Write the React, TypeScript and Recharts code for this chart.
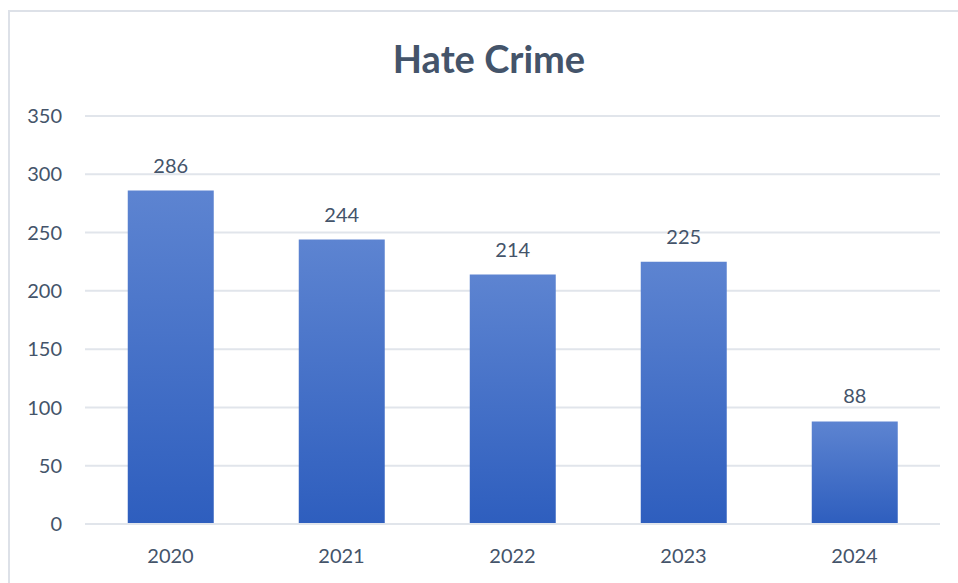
import React from "react";
import { BarChart, Bar, XAxis, YAxis, CartesianGrid, LabelList } from "recharts";

const years = ["2020", "2021", "2022", "2023", "2024"];
const counts = [286, 244, 214, 225, 88];
const yTicks = [0, 50, 100, 150, 200, 250, 300, 350];

const data = years.map((year, i) => ({ year, count: counts[i] }));

const FONT = "Lato, 'Open Sans', sans-serif";
const TEXT = "#44546A";

export default function App() {
  return (
    <div
      style={{
        position: "fixed",
        left: 0,
        top: 0,
        width: 958,
        height: 583,
        overflow: "hidden",
        background: "#ffffff",
        fontFamily: FONT,
      }}
    >
      <div
        style={{
          position: "absolute",
          left: 8,
          top: 10,
          width: 980,
          height: 600,
          borderLeft: "2px solid #dde1e8",
          borderTop: "2px solid #dde1e8",
          boxSizing: "border-box",
        }}
      />
      <div
        style={{
          position: "absolute",
          left: 8,
          width: 962,
          top: 35,
          textAlign: "center",
          fontSize: 38,
          fontWeight: 700,
          color: TEXT,
          lineHeight: "46px",
        }}
      >
        Hate Crime
      </div>
      <div style={{ position: "absolute", left: 8, top: 8 }}>
        <BarChart
          width={950}
          height={575}
          data={data}
          margin={{ top: 108, right: 18, bottom: 29, left: 0 }}
          barCategoryGap="25%"
        >
          <defs>
            <linearGradient id="barGrad" x1="0" y1="0" x2="0" y2="1">
              <stop offset="0%" stopColor="#5d84d1" />
              <stop offset="100%" stopColor="#2e5ebe" />
            </linearGradient>
          </defs>
          <CartesianGrid vertical={false} stroke="#e1e5eb" strokeWidth={2} />
          <XAxis
            dataKey="year"
            height={30}
            tickLine={false}
            axisLine={{ stroke: "#e1e5eb", strokeWidth: 2 }}
            tickSize={0}
            tickMargin={25}
            tick={{ fill: TEXT, fontSize: 20, fontFamily: FONT }}
          />
          <YAxis
            width={77}
            domain={[0, 350]}
            ticks={yTicks}
            interval={0}
            tickLine={false}
            axisLine={false}
            tickSize={0}
            tickMargin={23}
            tick={{ fill: TEXT, fontSize: 20, fontFamily: FONT }}
          />
          <Bar dataKey="count" fill="url(#barGrad)" isAnimationActive={false}>
            <LabelList
              dataKey="count"
              position="top"
              offset={18}
              style={{ fill: TEXT, fontSize: 20, fontFamily: FONT }}
            />
          </Bar>
        </BarChart>
      </div>
    </div>
  );
}
